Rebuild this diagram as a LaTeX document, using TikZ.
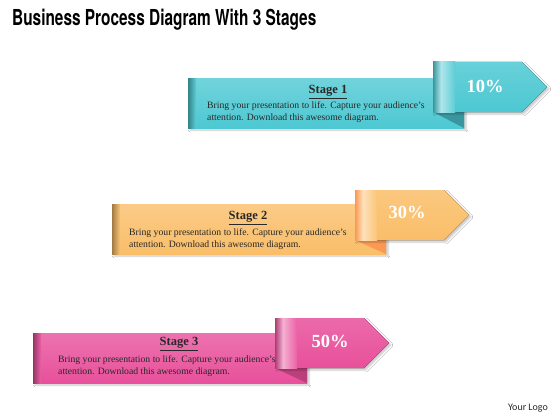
\documentclass[tikz,border=0pt]{standalone}
\usepackage{fontspec}
\setmainfont{Liberation Serif}
\newfontfamily\headfont{TeX Gyre Heros}
\newfontfamily\logofont{Carlito}
\usetikzlibrary{shadows.blur}
\definecolor{stagecyan}{RGB}{77,200,210}
\definecolor{stageorange}{RGB}{250,190,105}
\definecolor{stagepink}{RGB}{232,80,155}
\definecolor{stageink}{RGB}{40,40,40}
\tikzset{
  ribbon/.style={blur shadow={shadow xshift=2pt,shadow yshift=-2pt,shadow blur steps=6,shadow opacity=22}},
  stagetitle/.style={text=stageink,font=\fontsize{12.5}{14}\selectfont\bfseries},
  stagetext/.style={anchor=west,align=left,inner sep=0pt,text=stageink,font=\fontsize{9.7}{12}\selectfont},
  stagepct/.style={text=white,font=\fontsize{18.5}{20}\selectfont\bfseries}
}

\begin{document}
\begin{tikzpicture}[x=1pt,y=-1pt]
  \useasboundingbox[fill=white] (0,0) rectangle (560,420);
  \node[anchor=west,inner sep=0pt] (title) at (12,20)
    {\scalebox{0.70}[1]{\headfont\fontsize{22}{24}\selectfont\bfseries Business Process Diagram With 3 Stages}};
  %
  % stage 1
  \fill[ribbon,top color=stagecyan!80!white,bottom color=stagecyan] (188,79) rectangle (464,128);
  \shade[left color=stagecyan!65!black,right color=stagecyan!90!white] (188,79) rectangle (196,128);
  \fill[stagecyan!75!black] (433,112) -- (464,112) -- (464,128) -- cycle;
  \fill[ribbon,top color=stagecyan!85!white,bottom color=stagecyan] (433,62) -- (522,62) -- (547,87) -- (522,112) -- (433,112) -- cycle;
  \shade[left color=stagecyan!75!black,right color=stagecyan!45!white] (433,62) rectangle (441,112);
  \shade[left color=stagecyan!45!white,right color=stagecyan!90!white] (441,62) rectangle (455,112);
  \node[stagetitle] (stage1) at (328,92) {\underline{Stage 1}};
  \node[stagetext] (text1) at (207,112) {Bring your presentation to life. Capture your audience’s\\attention. Download this awesome diagram.};
  \node[stagepct] (pct1) at (485,86) {10\%};
  %
  % stage 2
  \fill[ribbon,top color=stageorange!80!white,bottom color=stageorange] (112,204) rectangle (386,254);
  \shade[left color=stageorange!65!black,right color=stageorange!90!white] (112,204) rectangle (120,254);
  \fill[stageorange!80!red] (355,240) -- (386,240) -- (386,254) -- cycle;
  \fill[ribbon,top color=stageorange!85!white,bottom color=stageorange] (355,190) -- (444,190) -- (469,215) -- (444,240) -- (355,240) -- cycle;
  \shade[left color=stageorange!80!red,right color=stageorange!45!white] (355,190) rectangle (363,240);
  \shade[left color=stageorange!45!white,right color=stageorange!90!white] (363,190) rectangle (377,240);
  \node[stagetitle] (stage2) at (248,218) {\underline{Stage 2}};
  \node[stagetext] (text2) at (129,239.5) {Bring your presentation to life. Capture your audience’s\\attention. Download this awesome diagram.};
  \node[stagepct] (pct2) at (407,212) {30\%};
  %
  % stage 3
  \fill[ribbon,top color=stagepink!80!white,bottom color=stagepink] (33,333) rectangle (307,383);
  \shade[left color=stagepink!65!black,right color=stagepink!90!white] (33,333) rectangle (41,383);
  \fill[stagepink!80!black] (275,368) -- (307,368) -- (307,383) -- cycle;
  \fill[ribbon,top color=stagepink!85!white,bottom color=stagepink] (275,318) -- (364,318) -- (389,343) -- (364,368) -- (275,368) -- cycle;
  \shade[left color=stagepink!75!black,right color=stagepink!45!white] (275,318) rectangle (283,368);
  \shade[left color=stagepink!45!white,right color=stagepink!90!white] (283,318) rectangle (297,368);
  \node[stagetitle] (stage3) at (179,344) {\underline{Stage 3}};
  \node[stagetext] (text3) at (58,366.5) {Bring your presentation to life. Capture your audience’s\\attention. Download this awesome diagram.};
  \node[stagepct] (pct3) at (330,341) {50\%};
  %
  \node[text=stageink,font=\logofont\fontsize{10}{12}\selectfont] (logo) at (528,408) {Your Logo};
\end{tikzpicture}
\end{document}
